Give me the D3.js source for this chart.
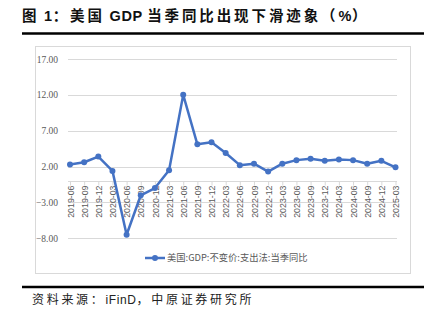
<!DOCTYPE html>
<html>
<head>
<meta charset="utf-8">
<script src="https://cdn.jsdelivr.net/npm/d3@7"></script>
<style>
  html, body { margin: 0; padding: 0; background: #fff; }
  svg { display: block; }
</style>
</head>
<body>
<svg id="chart" width="439" height="323"></svg>
<script>
// Quarter labels (category axis)
const quarters = [
  "2019-06","2019-09","2019-12","2020-03","2020-06","2020-09","2020-12","2021-03",
  "2021-06","2021-09","2021-12","2022-03","2022-06","2022-09","2022-12","2023-03",
  "2023-06","2023-09","2023-12","2024-03","2024-06","2024-09","2024-12","2025-03"
];
// US real GDP, year-over-year growth of the quarter (%)
const gdpYoY = [
  2.3, 2.6, 3.4, 1.4, -7.5, -2.0, -1.0, 1.5,
  12.0, 5.1, 5.4, 3.9, 2.2, 2.4, 1.3, 2.4,
  2.9, 3.1, 2.8, 3.0, 2.9, 2.4, 2.8, 1.9
];
const yTicks = [17, 12, 7, 2, -3, -8];
const seriesName = "美国:GDP:不变价:支出法:当季同比";
const titleText = "图 1：美国 GDP 当季同比出现下滑迹象（%）";
const sourceText = "资料来源：iFinD，中原证券研究所";

const svg = d3.select("#chart");
const sans = "'Liberation Sans', Arial, 'Noto Sans CJK SC', sans-serif";
const cjk = "'Noto Sans CJK SC', sans-serif";

// Text with wider tracking on CJK runs, normal tracking on Latin runs
function spacedText(sel, str, cjkSpacing) {
  const runs = str.match(/[\x20-\x7e]+|[^\x20-\x7e]+/g);
  sel.selectAll("tspan")
    .data(runs)
    .join("tspan")
    .attr("letter-spacing", d => /^[\x20-\x7e]+$/.test(d) ? 0.6 : cjkSpacing)
    .text(d => d);
}

// Title and its rule
svg.append("text")
  .attr("x", 22).attr("y", 21)
  .attr("font-family", sans)
  .attr("font-weight", "bold")
  .attr("font-size", 14.5)
  .attr("fill", "#111")
  .call(spacedText, titleText, 2.9);
svg.append("line")
  .attr("x1", 22).attr("x2", 424).attr("y1", 33.5).attr("y2", 33.5)
  .attr("stroke", "#000").attr("stroke-width", 2.5);

// Chart frame
svg.append("rect")
  .attr("x", 35.5).attr("y", 46.5).attr("width", 375).attr("height", 227)
  .attr("fill", "none").attr("stroke", "#d9d9d9").attr("stroke-width", 1);

// Scales
const x = d3.scalePoint().domain(quarters).range([70, 395.5]);
const y = d3.scaleLinear().domain([-8, 17]).range([238.3, 59]);
const gridX0 = 68, gridX1 = 397;

// Horizontal gridlines
svg.append("g")
  .selectAll("line")
  .data(yTicks)
  .join("line")
  .attr("x1", gridX0).attr("x2", gridX1)
  .attr("y1", d => Math.round(y(d)) + 0.5).attr("y2", d => Math.round(y(d)) + 0.5)
  .attr("stroke", "#d9d9d9").attr("stroke-width", 1);

// Value axis labels
const yAxis = d3.axisLeft(y).tickValues(yTicks).tickFormat(d3.format(".2f")).tickSize(0).tickPadding(0);
const gy = svg.append("g").attr("transform", "translate(58,0)").call(yAxis);
gy.select(".domain").remove();
gy.selectAll("text")
  .attr("font-family", "'Liberation Serif', 'Times New Roman', serif")
  .attr("font-size", 9.5)
  .attr("fill", "#595959");

// Category axis crossing at zero
const xAxis = d3.axisBottom(x).tickSize(4).tickPadding(3);
const gx = svg.append("g").attr("transform", `translate(0,${Math.round(y(0)) + 0.5})`).call(xAxis);
gx.select(".domain").attr("d", `M${gridX0},0H${gridX1}`).attr("stroke", "#d9d9d9");
gx.selectAll(".tick line").attr("stroke", "#d9d9d9");
gx.selectAll(".tick text")
  .attr("transform", "rotate(-90)")
  .attr("text-anchor", "end")
  .attr("x", -4).attr("y", 0).attr("dy", "0.35em")
  .attr("font-family", sans)
  .attr("font-size", 8.8)
  .attr("fill", "#595959");

// Series line and markers
const lineGen = d3.line().x((d, i) => x(quarters[i])).y(d => y(d));
svg.append("path")
  .datum(gdpYoY)
  .attr("d", lineGen)
  .attr("fill", "none")
  .attr("stroke", "#4472c4")
  .attr("stroke-width", 2.5)
  .attr("stroke-linejoin", "round");
svg.append("g")
  .selectAll("circle")
  .data(gdpYoY)
  .join("circle")
  .attr("cx", (d, i) => x(quarters[i]))
  .attr("cy", d => y(d))
  .attr("r", 3)
  .attr("fill", "#4472c4");

// Legend
const lg = svg.append("g").attr("transform", "translate(145,258)");
lg.append("line").attr("x1", 0).attr("x2", 20).attr("y1", 0).attr("y2", 0)
  .attr("stroke", "#4472c4").attr("stroke-width", 2.5);
lg.append("circle").attr("cx", 10).attr("cy", 0).attr("r", 3).attr("fill", "#4472c4");
lg.append("text")
  .attr("x", 22).attr("y", 0).attr("dy", "0.35em")
  .attr("font-family", cjk)
  .attr("font-size", 9.3)
  .attr("fill", "#595959")
  .text(seriesName);

// Source rule and note
svg.append("line")
  .attr("x1", 22).attr("x2", 424).attr("y1", 287).attr("y2", 287)
  .attr("stroke", "#000").attr("stroke-width", 2.5);
svg.append("text")
  .attr("x", 32).attr("y", 304)
  .attr("font-family", sans)
  .attr("font-size", 12)
  .attr("fill", "#222")
  .call(spacedText, sourceText, 2.7);
</script>
</body>
</html>
